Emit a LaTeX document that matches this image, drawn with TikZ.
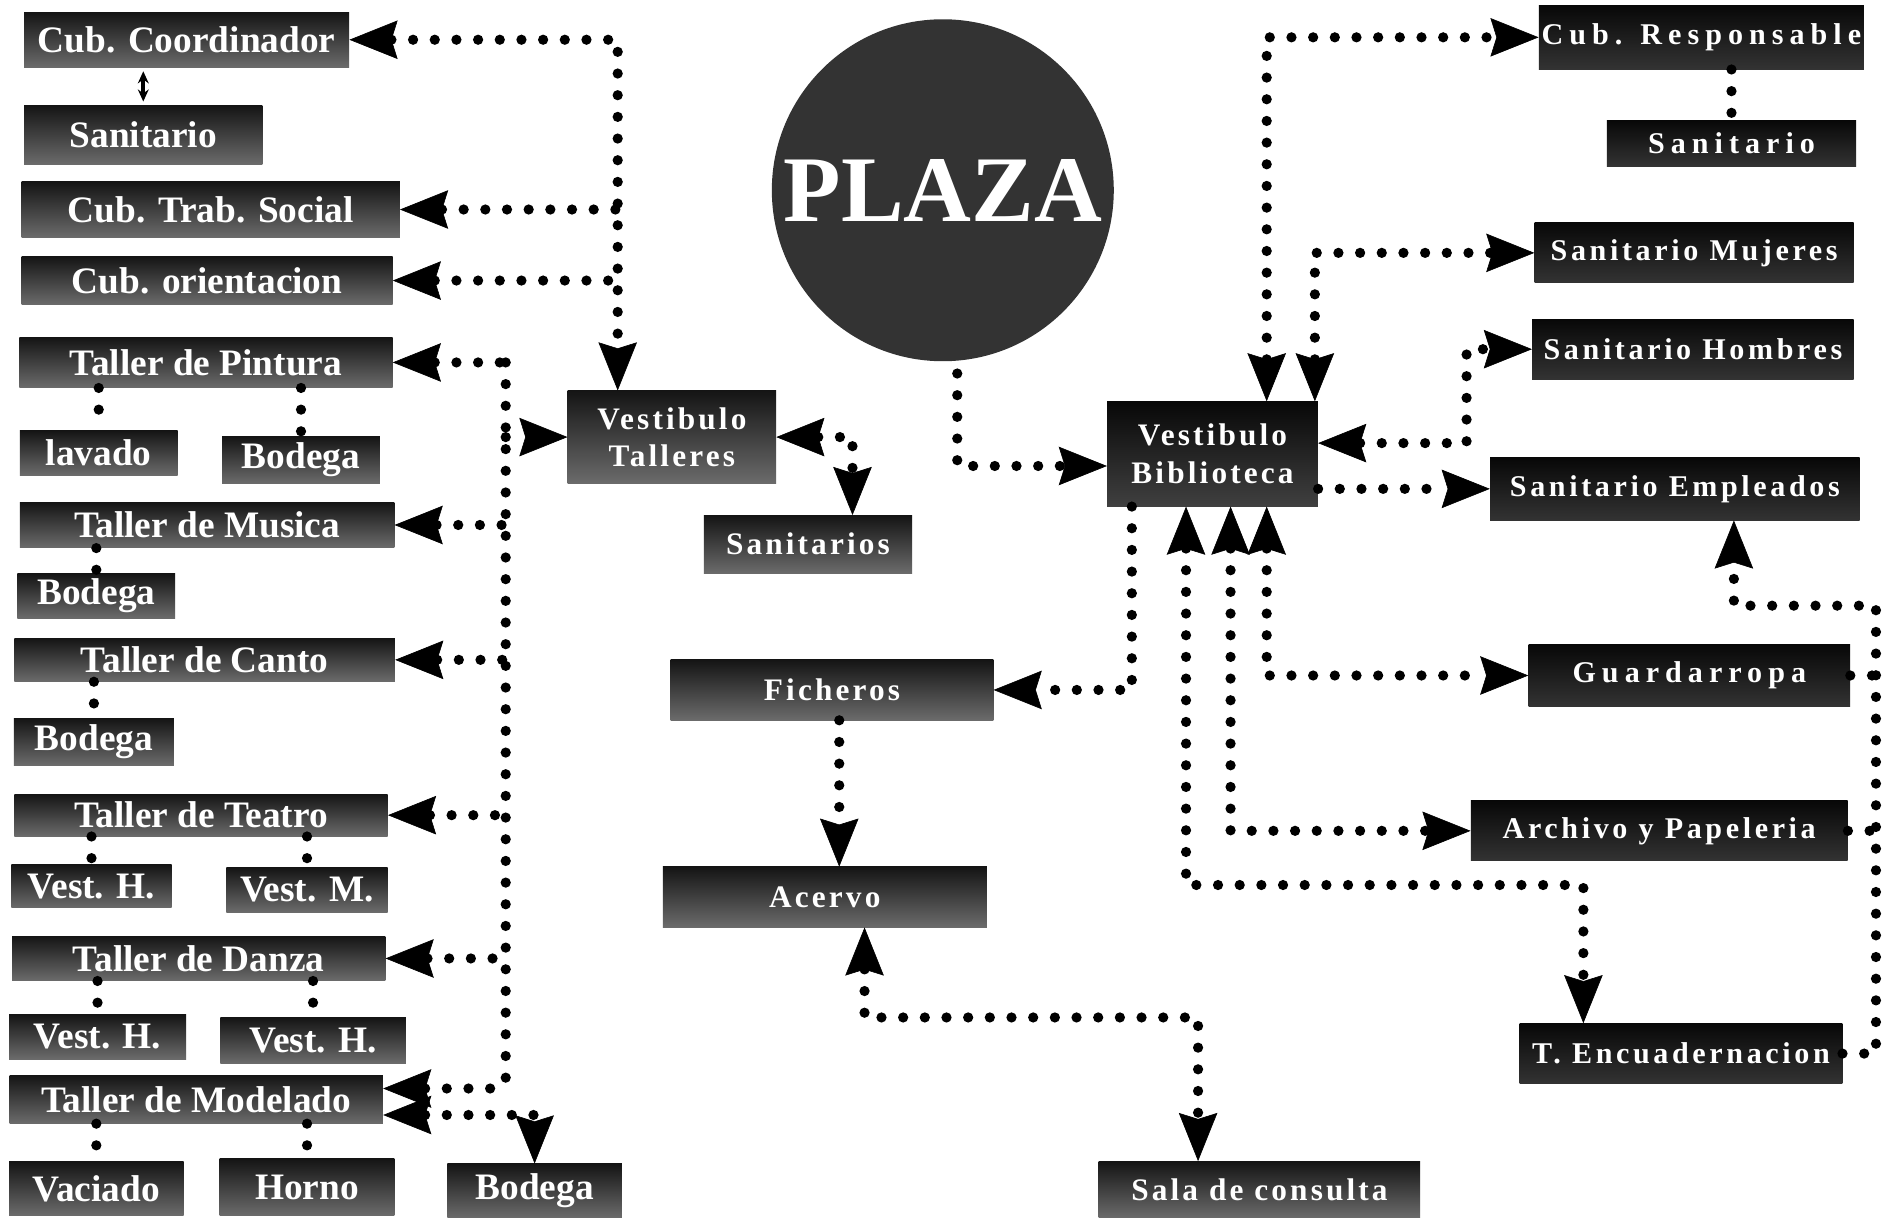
\documentclass[tikz,border=0pt]{standalone}
\usepackage{fontspec}
\setmainfont{Liberation Serif}
\newfontfamily\ffmid[LetterSpace=10]{Liberation Serif}
\newfontfamily\ffright[LetterSpace=12]{Liberation Serif}
\newfontfamily\ffwide[LetterSpace=20]{Liberation Serif}
\usetikzlibrary{arrows.meta}
\tikzset{
  conn/.style={line width=8.5pt, line cap=round, dash pattern=on 0pt off 18pt},
  AR/.tip={Stealth[length=40pt,width=32pt,inset=5pt,line width=0.5pt,fill=black]},
  bx/.style={inner sep=0pt, text=white, align=center},
  lb/.style={bx, top color=black!92, bottom color=black!58, font=\fontsize{31}{34}\selectfont\bfseries},
  mb/.style={bx, top color=black!92, bottom color=black!58, font=\ffmid\fontsize{26}{31}\selectfont\bfseries},
  rb/.style={bx, top color=black!97, bottom color=black!80, font=\ffright\fontsize{25}{30}\selectfont\bfseries},
  rw/.style={rb, font=\ffwide\fontsize{25}{30}\selectfont\bfseries},
}
\begin{document}
\begin{tikzpicture}[x=1pt,y=-1pt]
\fill[white] (0,0) rectangle (1568,1015);
\useasboundingbox (0,0) rectangle (1568,1015);

% ---------- left column ----------
\node[lb, minimum width=270pt, minimum height=46pt] (cubc) at (155,33) {Cub. Coordinador};
\node[lb, minimum width=198pt, minimum height=49pt] (sanl) at (119,112) {Sanitario};
\node[lb, minimum width=314pt, minimum height=46pt] (trab) at (175,174) {Cub. Trab. Social};
\node[lb, minimum width=308pt, minimum height=40pt] (orient) at (172,233) {Cub. orientacion};
\node[lb, minimum width=310pt, minimum height=42pt] (pint) at (171,301) {Taller de Pintura};
\node[lb, minimum width=131pt, minimum height=37pt] (lav) at (82,376) {lavado};
\node[lb, minimum width=131pt, minimum height=39pt] (bodp) at (250,382) {Bodega};
\node[lb, minimum width=311pt, minimum height=38pt] (mus) at (172,436) {Taller de Musica};
\node[lb, minimum width=131pt, minimum height=37pt] (bodm) at (80,495) {Bodega};
\node[lb, minimum width=316pt, minimum height=36pt] (canto) at (170,548) {Taller de Canto};
\node[lb, minimum width=133pt, minimum height=39pt] (bodc) at (78,616) {Bodega};
\node[lb, minimum width=310pt, minimum height=35pt] (teatro) at (167,677) {Taller de Teatro};
\node[lb, minimum width=133pt, minimum height=36pt] (vht) at (76,736) {Vest. H.};
\node[lb, minimum width=134pt, minimum height=37pt] (vmt) at (255,739) {Vest. M.};
\node[lb, minimum width=310pt, minimum height=37pt] (danza) at (165,796) {Taller de Danza};
\node[lb, minimum width=147pt, minimum height=37pt] (vhd1) at (81,861) {Vest. H.};
\node[lb, minimum width=154pt, minimum height=38pt] (vhd2) at (260,864) {Vest. H.};
\node[lb, minimum width=310pt, minimum height=40pt] (model) at (163,913) {Taller de Modelado};
\node[lb, minimum width=145pt, minimum height=45pt] (vac) at (80,987) {Vaciado};
\node[lb, minimum width=145pt, minimum height=47pt] (horno) at (255,986) {Horno};
\node[lb, minimum width=145pt, minimum height=45pt] (bodb) at (444,989) {Bodega};

% ---------- middle ----------
\node[mb, minimum width=173pt, minimum height=77pt] (vt) at (558,363) {Vestibulo\\Talleres};
\node[mb, minimum width=173pt, minimum height=48pt] (sanit) at (671,452) {Sanitarios};
\node[mb, minimum width=268pt, minimum height=50pt] (fich) at (691,573) {Ficheros};
\node[mb, minimum width=269pt, minimum height=50pt] (acer) at (685,745) {Acervo};
\node[mb, minimum width=267pt, minimum height=47pt] (sala) at (1046,988) {Sala de consulta};
\node[circle, fill=black!80, minimum size=284pt, inner sep=0pt, text=white,
      font=\fontsize{78}{80}\selectfont\bfseries] (plaza) at (783,158) {PLAZA};
\node[mb, top color=black!97, bottom color=black!75, minimum width=175pt, minimum height=87pt] (vb) at (1007,377) {Vestibulo\\Biblioteca};

% ---------- right column ----------
\node[rw, minimum width=270pt, minimum height=53pt] (cubr) at (1413,31) {Cub. Responsable};
\node[rw, minimum width=207pt, minimum height=38pt] (sanr) at (1438,119) {Sanitario};
\node[rb, minimum width=265pt, minimum height=50pt] (sanm) at (1407,210) {Sanitario Mujeres};
\node[rb, minimum width=267pt, minimum height=50pt] (sanh) at (1406,290) {Sanitario Hombres};
\node[rb, minimum width=307pt, minimum height=52pt] (sane) at (1391,406) {Sanitario Empleados};
\node[rw, minimum width=267pt, minimum height=52pt] (guard) at (1403,561) {Guardarropa};
\node[rb, minimum width=313pt, minimum height=50pt] (arch) at (1378,690) {Archivo y Papeleria};
\node[rb, minimum width=268pt, minimum height=50pt] (tenc) at (1396,875) {T. Encuadernacion};

% ---------- helper coordinates ----------
\coordinate (xA) at (513,0);
\coordinate (xT) at (420,0);
\coordinate (yM1) at (0,904);
\coordinate (yM2) at (0,926);
\coordinate (xS) at (708,0);
\coordinate (xP) at (795,0);
\coordinate (yPB) at (0,387);
\coordinate (xR1) at (1052,0);
\coordinate (xR2) at (1092,0);
\coordinate (xH) at (1218,0);
\coordinate (yH1) at (0,368);
\coordinate (xAr) at (1022,0);
\coordinate (xE) at (985,0);
\coordinate (xE2) at (1315,0);
\coordinate (yE) at (0,735);
\coordinate (xF) at (940,0);
\coordinate (xFA) at (697,0);
\coordinate (xC) at (718,0);
\coordinate (xSala) at (995,0);
\coordinate (ySala) at (0,845);
\coordinate (xBus) at (1558,0);
\coordinate (xSE) at (1440,0);
\coordinate (ySE) at (0,503);

% ---------- connectors: left ----------
\draw[line width=3pt, {Stealth[length=10pt,width=9pt]}-{Stealth[length=10pt,width=9pt]}, shorten <=3pt, shorten >=3pt]
  (sanl.north |- cubc.south) -- (sanl.north);
\draw[conn, AR-AR] (cubc.east) -- (cubc.east -| xA) -- (vt.north -| xA);
\draw[conn, AR-] (trab.east) -- (trab.east -| xA);
\draw[conn, AR-] (orient.east) -- (orient.east -| xA);

\draw[conn] (pint.east -| xT) -- (xT |- yM1);
\draw[conn, -AR] (vt.west -| xT) -- (vt.west);
\foreach \n in {pint,mus,canto,teatro,danza}
  \draw[conn, AR-] (\n.east) -- (\n.east -| xT);
\draw[conn, AR-] (model.east |- yM1) -- (xT |- yM1);
\draw[conn, AR-AR] (model.east |- yM2) -| (bodb.north);

\foreach \p/\c in {pint/lav, pint/bodp, mus/bodm, canto/bodc, teatro/vht, teatro/vmt,
                   danza/vhd1, danza/vhd2, model/vac, model/horno}
  \draw[conn] (\c.north |- \p.south) -- (\c.north);

% ---------- connectors: middle ----------
\draw[conn, AR-AR] (vt.east) -- (vt.east -| xS) -- (sanit.north -| xS);
\draw[conn, -AR, shorten <=10pt] (plaza.south -| xP) |- (vb.west |- yPB);
\draw[conn, -AR] (vb.south -| xF) |- (fich.east);
\draw[conn, -AR] (fich.south -| xFA) -- (acer.north -| xFA);
\draw[conn, AR-AR] (acer.south -| xC) |- (xSala |- ySala) -- (sala.north -| xSala);

% ---------- connectors: right ----------
\draw[conn, AR-AR] (vb.north -| xR1) |- (cubr.west);
\draw[conn] (sanr.north |- cubr.south) -- (sanr.north);
\draw[conn, AR-AR] (vb.north -| xR2) |- (sanm.west);
\draw[conn, AR-AR] (vb.east |- yH1) -| (sanh.west -| xH) -- (sanh.west);
\draw[conn, -AR] (vb.east |- sane.west) -- (sane.west);
\draw[conn, AR-AR] (vb.south -| xR1) |- (guard.west);
\draw[conn, AR-AR] (vb.south -| xAr) |- (arch.west);
\draw[conn, AR-AR] (vb.south -| xE) |- (xE2 |- yE) -- (tenc.north -| xE2);

\draw[conn, -AR] (tenc.east) -| (xBus |- ySE) -| (sane.south -| xSE);
\draw[conn] (guard.east) -- (guard.east -| xBus);
\draw[conn] (arch.east) -- (arch.east -| xBus);
\end{tikzpicture}
\end{document}
